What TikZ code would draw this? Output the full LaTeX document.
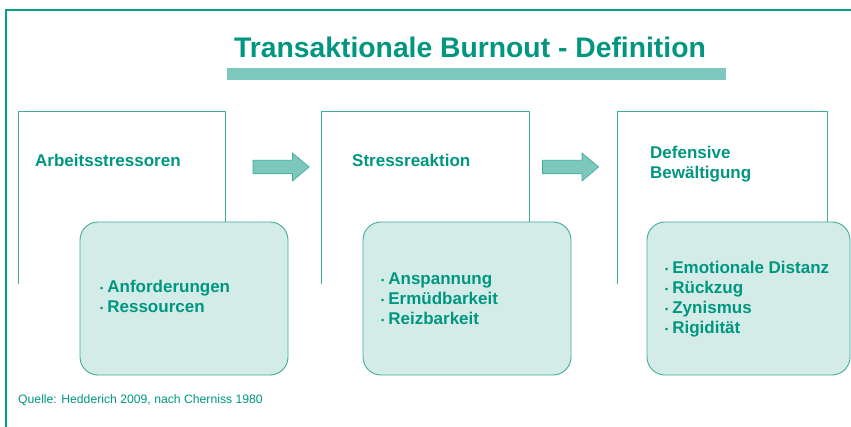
\documentclass[tikz,border=0pt]{standalone}
\usepackage{fontspec}
\setmainfont{Liberation Sans}
\usepackage{tikz}
\usetikzlibrary{positioning,shapes.arrows}

\definecolor{tealtext}{RGB}{0,150,128}
\definecolor{tealbar}{RGB}{124,200,188}
\definecolor{tealfill}{RGB}{212,236,232}
\definecolor{tealline}{RGB}{64,172,154}
\definecolor{tealframe}{RGB}{0,160,140}

\newcommand{\bul}{\raisebox{1.5pt}{\fontsize{9}{9}\selectfont\textbullet}\hspace{4pt}}

\begin{document}
\begin{tikzpicture}[x=1pt, y=-1pt,
  every node/.style={text=tealtext, inner sep=0pt},
  head/.style={font=\bfseries\fontsize{17}{20}\selectfont, align=left, anchor=base west},
  items/.style={font=\bfseries\fontsize{17}{20}\selectfont, align=left, anchor=base west},
  frame/.style={minimum height=172pt},
  bracket/.style={draw=tealline, line width=0.8pt},
  cluster/.style={draw=tealline, line width=0.9pt, fill=tealfill, rounded corners=18pt, minimum height=153pt},
  flowarrow/.style={single arrow, draw=tealline, fill=tealbar, line width=0.7pt, inner xsep=0pt, inner ysep=6.5pt, minimum width=27pt, minimum height=56pt, single arrow head extend=7pt, single arrow tip angle=80}
]
\useasboundingbox (0,0) rectangle (851,427);
% Outer frame
\draw[tealframe, line width=1.4pt] (6,427) -- (6,10) -- (851,10);
% Title
\node[font=\bfseries\fontsize{28.3}{30}\selectfont, anchor=base] (title) at (470,58) {Transaktionale Burnout - Definition};
\node[fill=tealbar, minimum width=499pt, minimum height=12pt] (titlebar) at (476.5,74) {};
% Stage frames (open at the bottom)
\node[frame, minimum width=206pt] (f1) at (122,198) {};
\node[frame, minimum width=207pt] (f2) at (425.5,198) {};
\node[frame, minimum width=209pt] (f3) at (722.5,198) {};
% Inner boxes
\node[cluster, minimum width=208pt] (c1) at (184,298.5) {};
\node[cluster, minimum width=208pt] (c2) at (467,298.5) {};
\node[cluster, minimum width=203pt] (c3) at (748.5,298.5) {};
\foreach \i in {1,2,3}
  \draw[bracket] (f\i.south west) -- (f\i.north west) -- (f\i.north east) -- (f\i.east |- c\i.north);
% Headings (base = last line)
\node[head] (h1) at (35,167) {Arbeitsstressoren};
\node[head] (h2) at (352,167) {Stressreaktion};
\node[head] (h3) at (650,179) {Defensive\\Bewältigung};
% Bullet lists (base = last line)
\node[items] (l1) at (100,313) {\bul Anforderungen\\\bul Ressourcen};
\node[items] (l2) at (381,325) {\bul Anspannung\\\bul Ermüdbarkeit\\\bul Reizbarkeit};
\node[items] (l3) at (665,334) {\bul Emotionale Distanz\\\bul Rückzug\\\bul Zynismus\\\bul Rigidität};
% Arrows between stages
\node[flowarrow] (a1) at (277,167) {};
\node[flowarrow] (a2) at (566.5,167) {};
% Source
\node[font=\fontsize{12.2}{14}\selectfont, anchor=base west] (src) at (18,403) {Quelle: Hedderich 2009, nach Cherniss 1980};
\end{tikzpicture}
\end{document}
